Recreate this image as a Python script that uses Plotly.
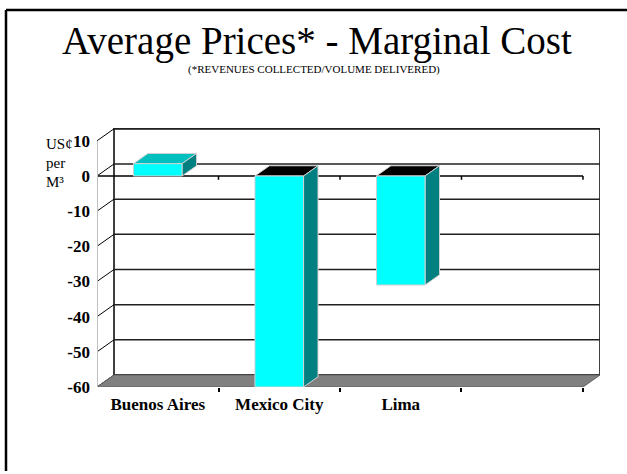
import plotly.graph_objects as go

# Chart data
cities = ["Buenos Aires", "Mexico City", "Lima"]
price_minus_cost = [3.5, -60, -31]   # US cents per m3
y_ticks = [10, 0, -10, -20, -30, -40, -50, -60]
n_slots = 4  # 4th category slot is empty in the original

SERIF = "Liberation Serif, Times New Roman, serif"

# Pseudo-3D geometry (in axis units)
DX, DY = 0.14, 3.41          # depth offset of the back wall
BAR_W = 0.4                  # bar width as fraction of a category
BAR_D = 0.85                 # bar depth as fraction of the wall depth
x_lo, x_hi = -0.5, n_slots - 0.5
y_lo, y_hi = min(y_ticks), max(y_ticks)

# page layout in pixels
W, H = 627, 474
L, R, T, B = 97, 27, 128, 87
pw, ph = W - L - R, H - T - B


def px(x):
    return (x - L) / pw


def py(y):
    return (H - B - y) / ph


fig = go.Figure()


def poly(xs, ys, fill, line_color, width=1):
    fig.add_trace(go.Scatter(
        x=xs + [xs[0]], y=ys + [ys[0]], mode="lines", fill="toself",
        fillcolor=fill, line=dict(color=line_color, width=width),
        hoverinfo="skip", showlegend=False, cliponaxis=False))


def seg(xs, ys, color, width=1):
    fig.add_trace(go.Scatter(
        x=xs, y=ys, mode="lines", line=dict(color=color, width=width),
        hoverinfo="skip", showlegend=False, cliponaxis=False))


# back wall
poly([x_lo + DX, x_hi + DX, x_hi + DX, x_lo + DX],
     [y_lo + DY, y_lo + DY, y_hi + DY, y_hi + DY], "white", "black", 1.5)

# gridlines on back wall + slanted ticks from the front axis
gx, gy, sx, sy = [], [], [], []
for v in y_ticks:
    gx += [x_lo + DX, x_hi + DX, None]
    gy += [v + DY, v + DY, None]
    sx += [x_lo, x_lo + DX, None]
    sy += [v, v + DY, None]
seg(gx, gy, "#202020", 1.5)
seg(sx, sy, "black", 1)

# floor
poly([x_lo, x_hi, x_hi + DX, x_lo + DX],
     [y_lo, y_lo, y_lo + DY, y_lo + DY], "#808080", "#606060", 1)

# front zero line with category ticks
bounds = [x_lo + i for i in range(n_slots + 1)]
zx, zy = [x_lo, x_hi, None], [0, 0, None]
for b in bounds[1:]:
    zx += [b, b, None]
    zy += [0, -1.1, None]
seg(zx, zy, "black", 1.5)

# front value axis
seg([x_lo, x_lo], [y_lo, y_hi], "#c0c0c0", 2)

# bars
for i, v in enumerate(price_minus_cost):
    x0, x1 = i - BAR_W / 2, i + BAR_W / 2
    ddx, ddy = BAR_D * DX, BAR_D * DY
    # top face
    top = v if v > 0 else 0
    poly([x0, x1, x1 + ddx, x0 + ddx], [top, top, top + ddy, top + ddy],
         "#00bfbf" if v > 0 else "black", "#d0d0d0", 1)
    # side face
    poly([x1, x1, x1 + ddx, x1 + ddx], [0, v, v + ddy, ddy],
         "#008080", "#d0d0d0", 1)
    # front face
    poly([x0, x1, x1, x0], [0, 0, v, v], "#00ffff", "#d0d0d0", 1)

# unit label
for text, ypix in [("US¢", 144), ("per", 163), ("M³", 182)]:
    fig.add_annotation(text=text, xref="paper", yref="paper",
                       x=px(44), y=py(ypix), xanchor="left", yanchor="middle",
                       showarrow=False, font=dict(family=SERIF, size=15, color="black"))

# title and subtitle
fig.add_annotation(text="Average Prices* - Marginal Cost", xref="paper", yref="paper",
                   x=px(317), y=py(41), xanchor="center", yanchor="middle",
                   showarrow=False, font=dict(family="Liberation Serif", size=39, color="black"))
fig.add_annotation(text="(*REVENUES COLLECTED/VOLUME DELIVERED)", xref="paper", yref="paper",
                   x=px(314), y=py(69), xanchor="center", yanchor="middle",
                   showarrow=False, font=dict(family=SERIF, size=11, color="black"))

# outer frame (top and left edges)
fig.add_shape(type="line", xref="paper", yref="paper", x0=px(6), x1=px(630),
              y0=py(10), y1=py(10), line=dict(color="black", width=2.5))
fig.add_shape(type="line", xref="paper", yref="paper", x0=px(6), x1=px(6),
              y0=py(10), y1=py(471), line=dict(color="black", width=2.5))

fig.update_layout(
    width=W, height=H,
    margin=dict(l=L, r=R, t=T, b=B),
    paper_bgcolor="white", plot_bgcolor="white",
    xaxis=dict(range=[x_lo, x_hi + DX], showgrid=False, zeroline=False,
               showline=False, tickvals=list(range(len(cities))),
               ticktext=[f"<b>{c}</b>" for c in cities], ticks="",
               ticklabelstandoff=5,
               minor=dict(tickvals=bounds[1:], ticks="outside", ticklen=4,
                          tickcolor="black", tickwidth=1.5),
               tickfont=dict(family=SERIF, size=17, color="black")),
    yaxis=dict(range=[y_lo, y_hi + DY + 0.23],
               showgrid=False, zeroline=False, showline=False,
               tickvals=y_ticks, ticktext=[f"<b>{t}</b>" for t in y_ticks],
               ticks="", ticklabelstandoff=6,
               tickfont=dict(family=SERIF, size=17, color="black")),
)

fig.write_html("out.html", config={"displayModeBar": False},
               post_script="document.body.style.margin='0';")
